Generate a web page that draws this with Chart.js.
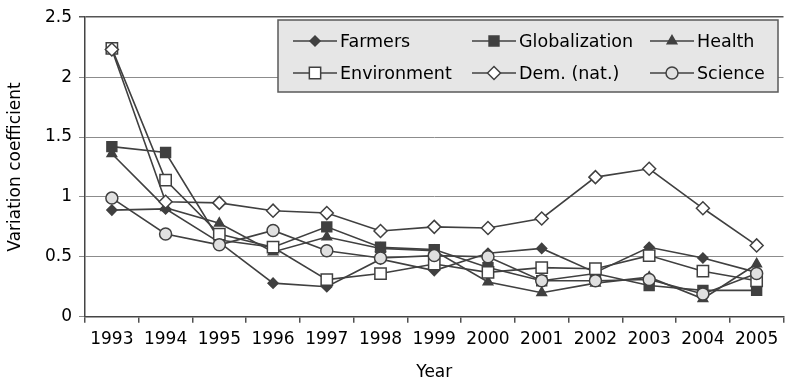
<!DOCTYPE html>
<html>
<head>
<meta charset="utf-8">
<script src="https://cdn.jsdelivr.net/npm/chart.js@4.4.1/dist/chart.umd.min.js"></script>
<style>
  html, body { margin: 0; padding: 0; background: #fff; }
  #wrap { width: 790px; height: 385px; overflow: hidden; }
</style>
</head>
<body>
<div id="wrap"><canvas id="cvChart" width="793" height="385"></canvas></div>
<script>
// variation coefficient per year for each topic
const years = ['1993', '1994', '1995', '1996', '1997', '1998', '1999', '2000', '2001', '2002', '2003', '2004', '2005'];
const farmers       = [0.89, 0.90, 0.62, 0.28, 0.25, 0.48, 0.385, 0.53, 0.57, 0.37, 0.58, 0.49, 0.37];
const globalization = [1.42, 1.37, 0.64, 0.58, 0.75, 0.58, 0.56, 0.41, 0.30, 0.36, 0.26, 0.22, 0.22];
const health        = [1.36, 0.91, 0.78, 0.54, 0.665, 0.57, 0.55, 0.29, 0.20, 0.28, 0.33, 0.15, 0.44];
const environment   = [2.24, 1.14, 0.69, 0.58, 0.31, 0.36, 0.44, 0.37, 0.41, 0.40, 0.51, 0.38, 0.30];
const demNat        = [2.23, 0.96, 0.95, 0.885, 0.865, 0.715, 0.75, 0.74, 0.82, 1.165, 1.235, 0.905, 0.595];
const science       = [0.99, 0.69, 0.60, 0.72, 0.55, 0.49, 0.51, 0.50, 0.30, 0.30, 0.31, 0.19, 0.36];
const yTicks = [0, 0.5, 1, 1.5, 2, 2.5];

const INK = '#404040';
const FONT = '"DejaVu Sans", sans-serif';

function serie(label, data, style, radius, fill, order) {
  return {
    label: label,
    data: data,
    borderColor: INK,
    borderWidth: 1.6,
    tension: 0,
    fill: false,
    pointStyle: style,
    pointRadius: radius,
    pointHoverRadius: radius,
    pointBackgroundColor: fill,
    pointBorderColor: INK,
    pointBorderWidth: 1.5,
    order: order
  };
}

// legend box in the upper right, two rows of three
const boxLegend = {
  id: 'boxLegend',
  afterDraw(chart) {
    const ctx = chart.ctx;
    ctx.save();
    ctx.fillStyle = '#e6e6e6';
    ctx.strokeStyle = '#5a5a5a';
    ctx.lineWidth = 1.5;
    ctx.fillRect(278, 20, 500, 72);
    ctx.strokeRect(278, 20, 500, 72);
    const colX = [293, 472, 650];
    const rowY = [41, 73];
    chart.data.datasets.forEach((ds, i) => {
      const x = colX[i % 3];
      const y = rowY[Math.floor(i / 3)];
      ctx.strokeStyle = ds.borderColor;
      ctx.lineWidth = ds.borderWidth;
      ctx.beginPath();
      ctx.moveTo(x, y);
      ctx.lineTo(x + 44, y);
      ctx.stroke();
      ctx.fillStyle = ds.pointBackgroundColor;
      ctx.strokeStyle = ds.pointBorderColor;
      ctx.lineWidth = ds.pointBorderWidth;
      Chart.helpers.drawPoint(ctx, {
        pointStyle: ds.pointStyle,
        radius: ds.pointRadius,
        rotation: 0,
        borderWidth: ds.pointBorderWidth
      }, x + 22, y);
      ctx.fillStyle = '#000';
      ctx.font = '17.5px ' + FONT;
      ctx.textBaseline = 'middle';
      ctx.textAlign = 'left';
      ctx.fillText(ds.label, x + 47, y + 1);
    });
    ctx.restore();
  }
};

document.addEventListener('DOMContentLoaded', () => {
  const ctx = document.getElementById('cvChart').getContext('2d');
  new Chart(ctx, {
    type: 'line',
    data: {
      labels: years,
      datasets: [
        serie('Farmers', farmers, 'rectRot', 5, INK, 6),
        serie('Globalization', globalization, 'rect', 7, INK, 5),
        serie('Health', health, 'triangle', 5.5, INK, 4),
        serie('Environment', environment, 'rect', 8, '#ffffff', 3),
        serie('Dem. (nat.)', demNat, 'rectRot', 6.5, '#ffffff', 2),
        serie('Science', science, 'circle', 6, '#e0e0e0', 1)
      ]
    },
    options: {
      responsive: false,
      animation: false,
      devicePixelRatio: 1,
      layout: { padding: { top: 13, left: 0, right: 0, bottom: 0 } },
      plugins: {
        legend: { display: false },
        tooltip: { enabled: false }
      },
      scales: {
        x: {
          offset: true,
          grid: {
            offset: true,
            drawOnChartArea: false,
            drawTicks: true,
            tickLength: 6,
            color: '#505050',
            lineWidth: 1.5
          },
          border: { color: '#444', width: 1.5 },
          ticks: { color: '#000', font: { family: FONT, size: 17 }, padding: 7, maxRotation: 0, autoSkip: false },
          title: { display: true, text: 'Year', color: '#000', font: { family: FONT, size: 17 }, padding: { top: 0, bottom: 2 } },
          afterFit(scale) { scale.height = 68.3; }
        },
        y: {
          min: 0,
          max: 2.5,
          afterBuildTicks(scale) { scale.ticks = yTicks.map(v => ({ value: v })); },
          grid: {
            tickLength: 6,
            color: c => (c.tick && c.tick.value === 2.5 ? '#555' : '#8c8c8c'),
            lineWidth: c => (c.tick && c.tick.value === 2.5 ? 1.5 : 1)
          },
          border: { color: '#444', width: 1.5 },
          ticks: {
            color: '#000',
            font: { family: FONT, size: 17 },
            padding: 7,
            callback: v => String(v)
          },
          title: { display: true, text: 'Variation coefficient', color: '#000', font: { family: FONT, size: 17 }, padding: { top: 5, bottom: 0 } },
          afterFit(scale) { scale.width = 85; }
        }
      }
    },
    plugins: [boxLegend]
  });
});
</script>
</body>
</html>
